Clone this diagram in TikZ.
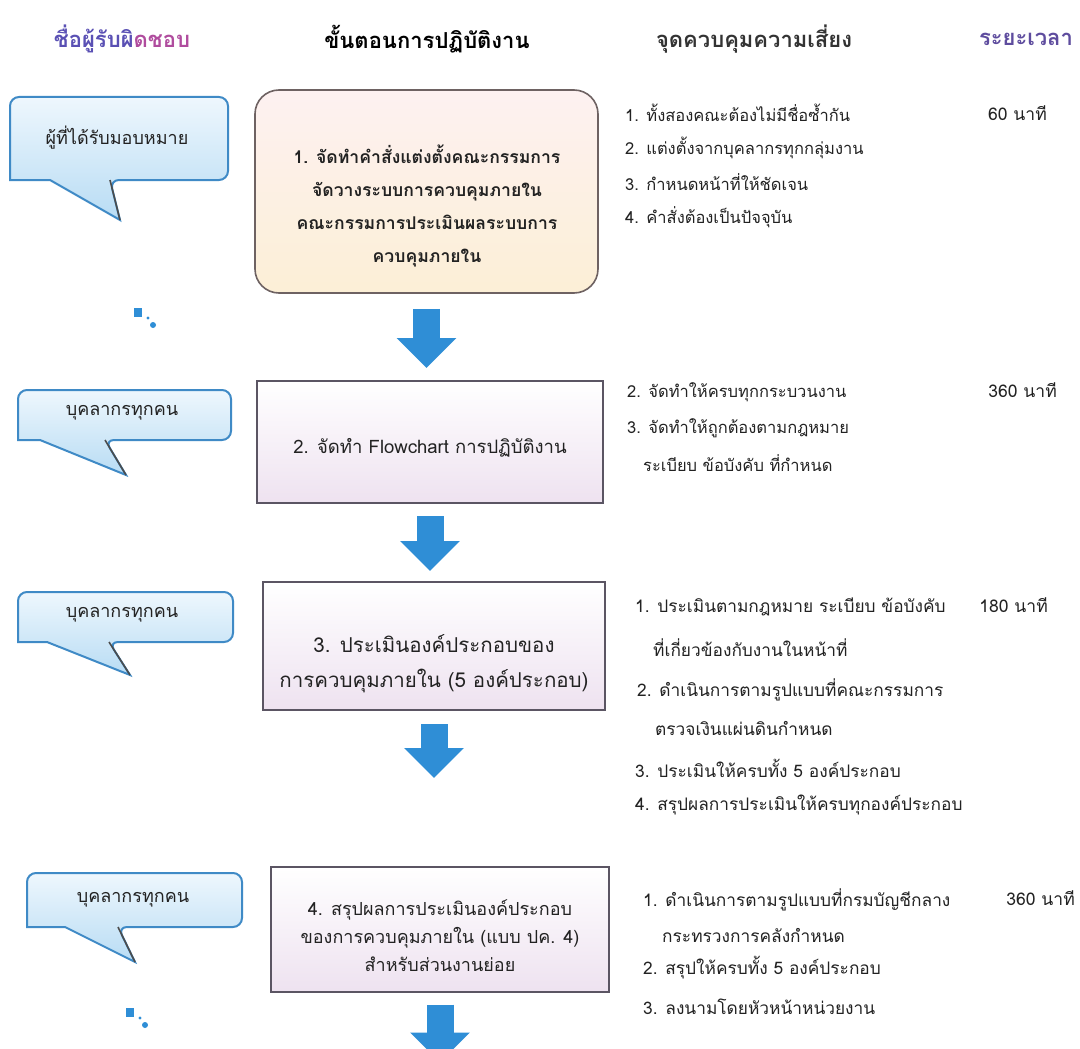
\documentclass[tikz,border=0pt]{standalone}
\usepackage{fontspec}
\newfontfamily\thai[Script=Thai]{Loma}
\usetikzlibrary{arrows.meta,calc}
\definecolor{calloutA}{HTML}{EEF7FD}
\definecolor{calloutB}{HTML}{B8DCF4}
\definecolor{calloutLine}{HTML}{3F8AC6}
\definecolor{arrowBlue}{HTML}{2F8ED6}
\definecolor{boxLine}{HTML}{5B5563}
\definecolor{boxShadeB}{HTML}{EEE2F0}
\definecolor{txt}{HTML}{222222}
\definecolor{headBlue}{HTML}{5A50B4}
\definecolor{headPink}{HTML}{B04C9E}
\definecolor{headPurple}{HTML}{5E4C9E}
\definecolor{bOneTop}{HTML}{FDF1F1}
\definecolor{bOneBot}{HTML}{FCEFD6}
\definecolor{bOneLine}{HTML}{6E6262}
\tikzset{
 callout/.style={draw=calloutLine, line width=2pt, top color=calloutA, bottom color=calloutB},
 tailedge/.style={draw=black!70, line width=1.6pt},
 calltext/.style={font=\thai\fontsize{18}{21}\selectfont, text=txt},
 roundbox/.style={draw=bOneLine, line width=1.6pt, rounded corners=24pt, top color=bOneTop, bottom color=bOneBot, inner sep=0pt},
 stepbox/.style={draw=boxLine, line width=2pt, top color=white, bottom color=boxShadeB, inner sep=0pt},
 boxtext/.style={font=\thai\fontsize{18.5}{34}\selectfont, text=txt, align=center},
 risk/.style={font=\thai\fontsize{16.5}{20}\selectfont, text=txt, anchor=west, inner sep=0pt},
 riskL/.style={risk, font=\thai\fontsize{17.3}{20}\selectfont},
 timet/.style={font=\thai\fontsize{17.5}{20}\selectfont, text=txt, anchor=east, inner sep=0pt},
 head/.style={font=\thai\bfseries\fontsize{22}{26}\selectfont},
 bigarrow/.style={draw=arrowBlue, line width=27pt, -{Triangle[width=58pt,length=30pt]}},
 dotblob/.style={fill=arrowBlue}
}
\newcommand\calloutshape[8]{%
 \path[callout] (#5,#2) [rounded corners=9pt] -- (#3,#2) -- (#3,#4) -- (#6,#4) [sharp corners] -- (#7,#8) -- (#5,#4) -- (#1,#4) [rounded corners=9pt] -- (#1,#2) -- cycle;
 \draw[tailedge] (#6,#4) -- (#7,#8);
}
\begin{document}
\begin{tikzpicture}[x=1pt,y=-1pt]
\fill[white] (0,0) rectangle (1080,1049);
\path[use as bounding box] (0,0) rectangle (1080,1049);

% headers
\node[head] (h1) at (122,39) {\textcolor{headBlue}{ชื่อผู้รับผิ}\textcolor{headPink}{ดชอบ}};
\node[head, text=black] (h2) at (427,39) {ขั้นตอนการปฏิบัติงาน};
\node[head, text=black!80] (h3) at (754,39) {จุดควบคุมความเสี่ยง};
\node[head, text=headPurple] (h4) at (1026,39) {ระยะเวลา};

% callouts
\calloutshape{10}{97}{228}{180}{50}{110}{120}{220}
\node[calltext] (c1) at (117,138) {ผู้ที่ได้รับมอบหมาย};
\calloutshape{18}{390}{231}{440}{40}{105}{126}{475}
\node[calltext] (c2) at (122,413) {บุคลากรทุกคน};
\calloutshape{18}{592}{233}{642}{47}{109}{130}{675}
\node[calltext] (c3) at (122,615) {บุคลากรทุกคน};
\calloutshape{27}{873}{242}{927}{65}{118}{135}{962}
\node[calltext] (c4) at (133,900) {บุคลากรทุกคน};

% dots
\fill[dotblob] (134,308) rectangle (142,317);
\fill[dotblob] (148,318) circle (1.6);
\fill[dotblob] (153,325) circle (3);
\fill[dotblob] (126,1008) rectangle (134,1017);
\fill[dotblob] (140,1018) circle (1.6);
\fill[dotblob] (145,1025) circle (3);

% process boxes
\node[roundbox, minimum width=343pt, minimum height=203pt] (b1) at (426.5,191.5) {};
\node[boxtext, font=\thai\bfseries\fontsize{17.6}{33}\selectfont] (b1t) at (427,206) {1. จัดทำคำสั่งแต่งตั้งคณะกรรมการ\\จัดวางระบบการควบคุมภายใน\\คณะกรรมการประเมินผลระบบการ\\ควบคุมภายใน};
\node[stepbox, minimum width=346pt, minimum height=122pt] (b2) at (430,442) {};
\node[boxtext] (b2t) at (430,448) {2. จัดทำ Flowchart การปฏิบัติงาน};
\node[stepbox, minimum width=342pt, minimum height=128pt] (b3) at (434,646) {};
\node[boxtext, font=\thai\fontsize{20.5}{35}\selectfont] (b3t) at (434,664) {3. ประเมินองค์ประกอบของ\\การควบคุมภายใน (5 องค์ประกอบ)};
\node[stepbox, minimum width=338pt, minimum height=125pt] (b4) at (440,929) {};
\node[boxtext, font=\thai\fontsize{18}{28}\selectfont] (b4t) at (440,936) {4. สรุปผลการประเมินองค์ประกอบ\\ของการควบคุมภายใน (แบบ ปค. 4)\\สำหรับส่วนงานย่อย};

% arrows
\draw[bigarrow] ($(b1.south)+(0,15)$) -- ($(b1.south |- b2.north)+(0,-12)$);
\draw[bigarrow] ($(b2.south)+(0,12)$) -- ($(b2.south |- b3.north)+(0,-10)$);
\draw[bigarrow] ($(b3.south)+(0,13)$) -- ($(b3.south)+(0,67)$);
\draw[bigarrow] ($(b4.south)+(0,12)$) -- ($(b4.south)+(0,70)$);

% risk control points
\node[risk] (r1a) at (625,113) {1. ทั้งสองคณะต้องไม่มีชื่อซ้ำกัน};
\node[risk] (r1b) at (625,148) {2. แต่งตั้งจากบุคลากรทุกกลุ่มงาน};
\node[risk] (r1c) at (625,182) {3. กำหนดหน้าที่ให้ชัดเจน};
\node[risk] (r1d) at (625,217) {4. คำสั่งต้องเป็นปัจจุบัน};

\node[risk] (r2a) at (627,392) {2. จัดทำให้ครบทุกกระบวนงาน};
\node[risk] (r2b) at (627,428) {3. จัดทำให้ถูกต้องตามกฎหมาย};
\node[risk] (r2c) at (643,463) {ระเบียบ ข้อบังคับ ที่กำหนด};

\node[riskL] (r3a) at (635,607) {1. ประเมินตามกฎหมาย ระเบียบ ข้อบังคับ};
\node[riskL] (r3b) at (653,648) {ที่เกี่ยวข้องกับงานในหน้าที่};
\node[riskL] (r3c) at (637,690) {2. ดำเนินการตามรูปแบบที่คณะกรรมการ};
\node[riskL] (r3d) at (655,728) {ตรวจเงินแผ่นดินกำหนด};
\node[riskL] (r3e) at (635,768) {3. ประเมินให้ครบทั้ง 5 องค์ประกอบ};
\node[riskL] (r3f) at (635,805) {4. สรุปผลการประเมินให้ครบทุกองค์ประกอบ};

\node[riskL] (r4a) at (643,900) {1. ดำเนินการตามรูปแบบที่กรมบัญชีกลาง};
\node[riskL] (r4b) at (662,935) {กระทรวงการคลังกำหนด};
\node[riskL] (r4c) at (643,968) {2. สรุปให้ครบทั้ง 5 องค์ประกอบ};
\node[riskL] (r4d) at (643,1007) {3. ลงนามโดยหัวหน้าหน่วยงาน};

% times
\node[timet] (t1) at (1047,113) {60 นาที};
\node[timet] (t2) at (1057,390) {360 นาที};
\node[timet] (t3) at (1048,605) {180 นาที};
\node[timet] (t4) at (1075,898) {360 นาที};
\end{tikzpicture}
\end{document}
